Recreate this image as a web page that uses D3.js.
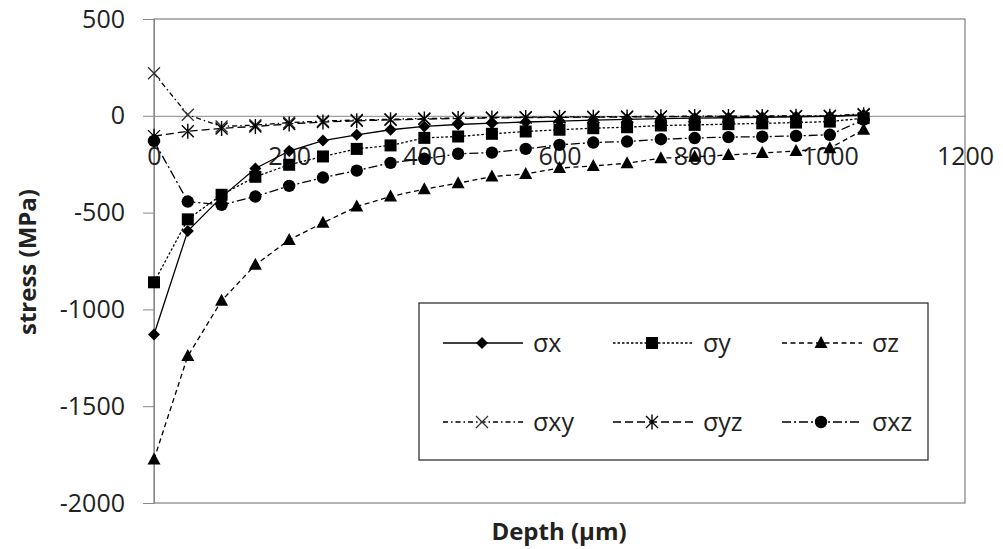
<!DOCTYPE html>
<html><head><meta charset="utf-8">
<script src="https://cdn.jsdelivr.net/npm/d3@7"></script>
<style>
html,body{margin:0;padding:0;background:#fff;}
svg text{font-family:"Open Sans","Liberation Sans",sans-serif;fill:#222;}
</style></head>
<body><svg id="c" width="1003" height="549"></svg>
<script>
const depth = [0,50,100,150,200,250,300,350,400,450,500,550,600,650,700,750,800,850,900,950,1000,1050];
const sx  = [-1130,-595,-420,-272,-182,-128,-98,-72,-55,-45,-38,-32,-27,-22,-18,-15,-12,-10,-8,-5,-3,5];
const sy  = [-860,-535,-408,-315,-253,-210,-171,-153,-114,-107,-93,-81,-72,-64,-59,-50,-47,-43,-39,-35,-30,-12];
const sz  = [-1775,-1241,-955,-770,-641,-553,-469,-417,-379,-348,-314,-300,-270,-259,-245,-219,-212,-202,-192,-182,-167,-72];
const sxy = [220,5,-55,-48,-35,-27,-22,-18,-14,-11,-9,-7,-6,-5,-4,-3,-2,-2,-1,-1,0,10];
const syz = [-105,-80,-65,-55,-42,-32,-26,-21,-17,-14,-11,-9,-8,-7,-6,-5,-4,-3,-3,-2,-2,5];
const sxz = [-130,-443,-460,-417,-362,-319,-283,-243,-222,-196,-190,-171,-150,-138,-133,-121,-115,-110,-108,-104,-98,-20];
const seriesNames = ["σx","σy","σz","σxy","σyz","σxz"];
const yTicks = [-2000,-1500,-1000,-500,0,500];
const xTicks = [0,200,400,600,800,1000,1200];

const svg = d3.select("#c");
const x = d3.scaleLinear().domain([0,1200]).range([154,965]);
const y = d3.scaleLinear().domain([-2000,500]).range([503,19]);

const series = [
  {name:seriesNames[0], vals:sx,  dash:null,          marker:"diamond"},
  {name:seriesNames[1], vals:sy,  dash:"2.5,2",       marker:"square"},
  {name:seriesNames[2], vals:sz,  dash:"5,3.5",       marker:"triangle"},
  {name:seriesNames[3], vals:sxy, dash:"5,3,1.5,3",   marker:"x"},
  {name:seriesNames[4], vals:syz, dash:"8,4",         marker:"asterisk"},
  {name:seriesNames[5], vals:sxz, dash:"9,3,2,3",     marker:"circle"}
];

// plot border
svg.append("rect").attr("x",x(0)).attr("y",y(500)).attr("width",x(1200)-x(0)).attr("height",y(-2000)-y(500))
  .attr("fill","none").attr("stroke","#666").attr("stroke-width",1);

const fmt = d => String(d);

// y axis
const ya = svg.append("g").attr("transform",`translate(${x(0)},0)`)
  .call(d3.axisLeft(y).tickValues(yTicks).tickSize(11).tickPadding(18).tickFormat(fmt));
ya.select(".domain").attr("stroke","#888");
ya.selectAll(".tick line").attr("stroke","#888");
ya.selectAll("text").attr("font-size",25).attr("fill","#222").attr("font-family","Open Sans");

// x axis at zero
const xa = svg.append("g").attr("transform",`translate(0,${y(0)})`)
  .call(d3.axisBottom(x).tickValues(xTicks).tickSize(0).tickPadding(31).tickFormat(fmt));
xa.select(".domain").attr("stroke","#888");
xa.selectAll("text").attr("font-size",25).attr("fill","#222").attr("font-family","Open Sans");

// titles
svg.append("text").attr("x",559).attr("y",540).attr("text-anchor","middle")
  .attr("font-size",24).attr("font-weight","bold").text("Depth (µm)");
svg.append("text").attr("transform","translate(36,262) rotate(-90)").attr("text-anchor","middle")
  .attr("font-size",24).attr("font-weight","bold").text("stress (MPa)");

function drawMarker(g, type, cx, cy){
  switch(type){
    case "diamond": g.append("path").attr("d",`M${cx},${cy-6}L${cx+6},${cy}L${cx},${cy+6}L${cx-6},${cy}Z`).attr("fill","#000"); break;
    case "square": g.append("rect").attr("x",cx-6).attr("y",cy-6).attr("width",12).attr("height",12).attr("fill","#000"); break;
    case "triangle": g.append("path").attr("d",`M${cx},${cy-7}L${cx+6.5},${cy+5}L${cx-6.5},${cy+5}Z`).attr("fill","#000"); break;
    case "circle": g.append("circle").attr("cx",cx).attr("cy",cy).attr("r",6.2).attr("fill","#000"); break;
    case "x": g.append("path").attr("d",`M${cx-6},${cy-6}L${cx+6},${cy+6}M${cx-6},${cy+6}L${cx+6},${cy-6}`).attr("stroke","#333").attr("stroke-width",1.3); break;
    case "asterisk": g.append("path").attr("d",`M${cx-6},${cy-6}L${cx+6},${cy+6}M${cx-6},${cy+6}L${cx+6},${cy-6}M${cx},${cy-7.5}L${cx},${cy+7.5}`).attr("stroke","#000").attr("stroke-width",1.4); break;
  }
}

const line = d3.line().x(d=>x(d[0])).y(d=>y(d[1]));
series.forEach(s=>{
  const pts = depth.map((d,i)=>[d,s.vals[i]]);
  svg.append("path").datum(pts).attr("d",line).attr("fill","none").attr("stroke","#000")
    .attr("stroke-width",1.3).attr("stroke-dasharray",s.dash);
});
series.forEach(s=>{
  const g = svg.append("g");
  depth.forEach((d,i)=>drawMarker(g,s.marker,x(d),y(s.vals[i])));
});

// legend
svg.append("rect").attr("x",419).attr("y",303).attr("width",509).attr("height",157)
  .attr("fill","#fff").attr("stroke","#333").attr("stroke-width",1.3);
const colX = [443,613,782];
const rowY = [343,422];
series.forEach((s,i)=>{
  const lx = colX[i%3], ly = rowY[Math.floor(i/3)];
  const g = svg.append("g");
  g.append("line").attr("x1",lx).attr("x2",lx+80).attr("y1",ly).attr("y2",ly)
    .attr("stroke","#000").attr("stroke-width",1.3).attr("stroke-dasharray",s.dash);
  drawMarker(g,s.marker,lx+39,ly);
  g.append("text").attr("x",lx+90).attr("y",ly+9).attr("font-size",25).text(s.name);
});
</script></body></html>
